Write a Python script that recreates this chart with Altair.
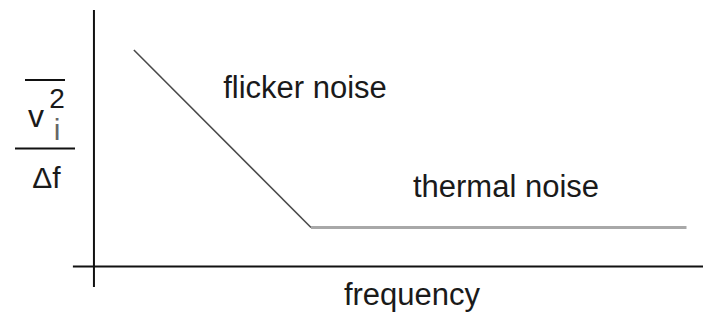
import altair as alt
import pandas as pd

# Noise spectrum (schematic): frequency in units of the corner frequency,
# noise density in units of the thermal floor.
freq = [0.184, 1.0, 2.730]
noise = [5.551, 1.0, 1.0]
segment_names = ["flicker", "thermal"]

# axes extents (data units)
axis_x_range = [-0.097, 2.806]
axis_y_range = [-0.526, 6.577]

labels = ["flicker noise", "thermal noise", "frequency"]

XDOM = [-0.396, 2.806]
YDOM = [-1.192, 6.628]

seg = pd.DataFrame({
    "name": segment_names,
    "x": freq[:-1],
    "x2": freq[1:],
    "y": noise[:-1],
    "y2": noise[1:],
})

xs = alt.Scale(domain=XDOM, nice=False, zero=False)
ys = alt.Scale(domain=YDOM, nice=False, zero=False)
FONT = "Liberation Sans"

axes = pd.DataFrame({
    "x": [axis_x_range[0], 0.0],
    "x2": [axis_x_range[1], 0.0],
    "y": [0.0, axis_y_range[0]],
    "y2": [0.0, axis_y_range[1]],
})

axis_layer = alt.Chart(axes).mark_rule(color="#111", strokeWidth=2).encode(
    x=alt.X("x:Q", scale=xs, axis=None),
    x2="x2:Q",
    y=alt.Y("y:Q", scale=ys, axis=None),
    y2="y2:Q",
)

flicker = alt.Chart(seg[seg.name == "flicker"]).mark_rule(
    color="#4a4a4a", strokeWidth=1.6
).encode(
    x=alt.X("x:Q", scale=xs, axis=None), x2="x2:Q",
    y=alt.Y("y:Q", scale=ys, axis=None), y2="y2:Q",
)
thermal = alt.Chart(seg[seg.name == "thermal"]).mark_rule(
    color="#a8a8a8", strokeWidth=3
).encode(
    x=alt.X("x:Q", scale=xs, axis=None), x2="x2:Q",
    y=alt.Y("y:Q", scale=ys, axis=None), y2="y2:Q",
)

def txt(t, x, y, size, color="#1a1a1a"):
    return alt.Chart(pd.DataFrame({"t": [t]})).mark_text(
        font=FONT, fontSize=size, color=color, align="center", baseline="alphabetic"
    ).encode(x=alt.value(x), y=alt.value(y), text="t:N")

def hline(x1, x2, y, w=2):
    return alt.Chart(pd.DataFrame({"a": [0]})).mark_rule(color="#111", strokeWidth=w).encode(
        x=alt.value(x1), x2=alt.value(x2), y=alt.value(y)
    )

layers = [
    axis_layer, flicker, thermal,
    txt(labels[0], 297, 90, 31),
    txt(labels[1], 498, 189, 31),
    txt(labels[2], 404, 297, 31),
    hline(17, 57, 72),
    hline(7, 67, 140.5),
    txt("v", 28, 119, 32),
    txt("2", 49, 100, 28),
    txt("i", 49, 132, 30, "#666"),
    txt("Δf", 38.5, 179.5, 30),
]

chart = alt.layer(*layers).properties(
    width=695, height=305,
    autosize=alt.AutoSizeParams(type="none"),
    padding=0,
).configure_view(stroke=None)

chart.save("out.html", embed_options={"renderer": "svg", "actions": False})
